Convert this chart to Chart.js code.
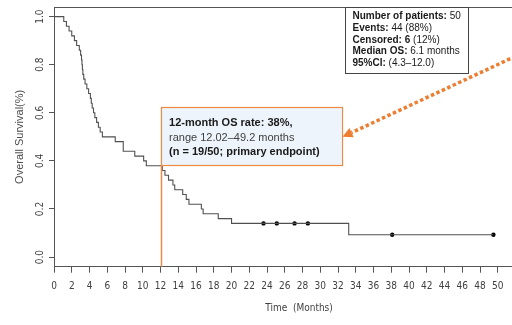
<!DOCTYPE html>
<html>
<head>
<meta charset="utf-8">
<title>Overall survival</title>
<script src="https://cdn.jsdelivr.net/npm/chart.js@4/dist/chart.umd.min.js"></script>
<style>
  html, body { margin: 0; padding: 0; background: #fff; overflow: hidden; }
  #wrap { width: 548px; height: 325px; }
</style>
</head>
<body>
<div id="wrap"><canvas id="km-chart" width="548" height="325"></canvas></div>
<script>
// Kaplan-Meier steps (time in months, survival after the step)
const kmTimes = [0, 1.1, 1.4, 1.7, 2.0, 2.3, 2.55, 2.85, 3.0,
  3.1, 3.15, 3.2, 3.25, 3.35, 3.5, 3.7, 3.9, 4.1, 4.2, 4.3, 4.45, 4.6, 4.8, 5.0, 5.2, 5.45,
  6.9, 7.8, 9.1, 10.1, 10.4,
  12.2, 12.5, 12.9, 13.4, 13.6, 14.5, 14.9, 15.2, 16.6, 16.8, 18.5, 20.0,
  33.2, 49.5];
const kmSurvival = [1.0, 0.98, 0.96, 0.94, 0.92, 0.90, 0.88, 0.86, 0.84,
  0.82, 0.80, 0.78, 0.76, 0.74, 0.72, 0.70, 0.68, 0.66, 0.64, 0.62, 0.60, 0.58, 0.56, 0.54, 0.52, 0.50,
  0.48, 0.44, 0.42, 0.40, 0.38,
  0.36, 0.34, 0.32, 0.30, 0.28, 0.26, 0.24, 0.22, 0.20, 0.18, 0.16, 0.14,
  0.093, 0.093];

// censored patients
const censorTimes = [23.6, 25.1, 27.1, 28.6, 38.1, 49.5];
const censorSurvival = [0.14, 0.14, 0.14, 0.14, 0.093, 0.093];

const yTickValues = [0, 0.2, 0.4, 0.6, 0.8, 1.0];
const yTickLabels = ["0.0", "0.2", "0.4", "0.6", "0.8", "1.0"];
const xTickStep = 2;
const lastXTick = 50;

const milestoneMonth = 12;
const infoLines = [
  [["Number of patients: ", true], ["50", false]],
  [["Events: ", true], ["44 (88%)", false]],
  [["Censored: 6 ", true], ["(12%)", false]],
  [["Median OS: ", true], ["6.1 months", false]],
  [["95%CI: ", true], ["(4.3\u201312.0)", false]],
];
const noteLines = [
  [["12-month OS rate: 38%,", true]],
  [["range 12.02\u201349.2 months", false]],
  [["(n = 19/50; primary endpoint)", true]],
];
// arrow from the top right corner towards the note box, in data units
const arrowFrom = { x: 51.4, y: 0.825 };
const arrowTo = { x: 32.5, y: 0.5 };

const axisFont = "'Liberation Sans Narrow', 'Arial Narrow', 'DejaVu Sans Condensed', sans-serif";
const textFont = "'Liberation Sans', Arial, sans-serif";
const orange = "#f08a42";

function drawRich(ctx, segments, x, y, size, color) {
  let cx = x;
  segments.forEach(([text, bold]) => {
    ctx.font = `${bold ? "bold " : ""}${size}px ${textFont}`;
    ctx.fillStyle = color;
    ctx.fillText(text, cx, y);
    cx += ctx.measureText(text).width;
  });
}

const decorations = {
  id: "decorations",
  afterDraw(chart) {
    const { ctx, chartArea, scales } = chart;
    const xs = scales.x;
    const ys = scales.y;
    ctx.save();

    // top of the box
    ctx.strokeStyle = "#555";
    ctx.lineWidth = 1;
    ctx.beginPath();
    ctx.moveTo(chartArea.left, chartArea.top + 0.5);
    ctx.lineTo(chartArea.right, chartArea.top + 0.5);
    ctx.stroke();

    // rotated y tick labels, R style
    ctx.fillStyle = "#404040";
    ctx.font = `10px ${axisFont}`;
    ctx.textAlign = "center";
    ctx.textBaseline = "middle";
    yTickValues.forEach((v, i) => {
      ctx.save();
      ctx.translate(40.5, ys.getPixelForValue(v));
      ctx.rotate(-Math.PI / 2);
      ctx.fillText(yTickLabels[i], 0, 0);
      ctx.restore();
    });

    // y title
    ctx.save();
    ctx.translate(20, (chartArea.top + chartArea.bottom) / 2);
    ctx.rotate(-Math.PI / 2);
    ctx.font = `11px ${textFont}`;
    ctx.fillStyle = "#4a4a4a";
    ctx.fillText("Overall Survival(%)", 0, 0);
    ctx.restore();

    // 12 month note box and its marker line
    const bx = xs.getPixelForValue(milestoneMonth);
    const by = 107;
    const bw = 181;
    const bh = 58;
    ctx.strokeStyle = orange;
    ctx.lineWidth = 1.5;
    ctx.beginPath();
    ctx.moveTo(Math.round(bx) + 0.5, by + bh);
    ctx.lineTo(Math.round(bx) + 0.5, chartArea.bottom);
    ctx.stroke();
    ctx.fillStyle = "#eef4fb";
    ctx.fillRect(bx, by, bw, bh);
    ctx.lineWidth = 1.2;
    ctx.strokeRect(Math.round(bx) + 0.5, by + 0.5, bw, bh);
    ctx.textAlign = "left";
    ctx.textBaseline = "middle";
    noteLines.forEach((line, i) => {
      drawRich(ctx, line, bx + 8.5, by + 16 + i * 14.5, 11, i === 1 ? "#404040" : "#1a1a1a");
    });

    // summary box
    const ix = 345.5;
    const iy = 7.5;
    ctx.fillStyle = "#fff";
    ctx.fillRect(ix, iy, 123, 66);
    ctx.strokeStyle = "#444";
    ctx.lineWidth = 1;
    ctx.strokeRect(ix, iy, 123, 66);
    infoLines.forEach((line, i) => {
      drawRich(ctx, line, ix + 7, iy + 9 + i * 11.7, 10, "#1a1a1a");
    });

    // dotted arrow
    const x1 = xs.getPixelForValue(arrowFrom.x);
    const y1 = ys.getPixelForValue(arrowFrom.y);
    const x2 = xs.getPixelForValue(arrowTo.x);
    const y2 = ys.getPixelForValue(arrowTo.y);
    const ang = Math.atan2(y2 - y1, x2 - x1);
    const head = 10;
    ctx.strokeStyle = "#ed7d31";
    ctx.lineWidth = 3.5;
    ctx.setLineDash([3.5, 2.5]);
    ctx.beginPath();
    ctx.moveTo(x1, y1);
    ctx.lineTo(x2 - Math.cos(ang) * head, y2 - Math.sin(ang) * head);
    ctx.stroke();
    ctx.setLineDash([]);
    ctx.fillStyle = "#ed7d31";
    ctx.beginPath();
    ctx.moveTo(x2, y2);
    ctx.lineTo(x2 - Math.cos(ang) * head - Math.sin(ang) * 5, y2 - Math.sin(ang) * head + Math.cos(ang) * 5);
    ctx.lineTo(x2 - Math.cos(ang) * head + Math.sin(ang) * 5, y2 - Math.sin(ang) * head - Math.cos(ang) * 5);
    ctx.closePath();
    ctx.fill();

    ctx.restore();
  },
};

const kmPoints = kmTimes.map((t, i) => ({ x: t, y: kmSurvival[i] }));
const censorPoints = censorTimes.map((t, i) => ({ x: t, y: censorSurvival[i] }));

new Chart(document.getElementById("km-chart"), {
  type: "line",
  data: {
    datasets: [
      {
        label: "Overall survival",
        data: kmPoints,
        stepped: "before",
        borderColor: "#505050",
        borderWidth: 1.1,
        pointRadius: 0,
        fill: false,
      },
      {
        label: "Censored",
        type: "scatter",
        data: censorPoints,
        pointStyle: "circle",
        pointRadius: 2.2,
        backgroundColor: "#000",
        borderColor: "#000",
        borderWidth: 0,
      },
    ],
  },
  options: {
    responsive: false,
    animation: false,
    layout: { padding: { top: 7, right: 0, left: 0, bottom: 0 } },
    plugins: {
      legend: { display: false },
      tooltip: { enabled: false },
    },
    scales: {
      x: {
        type: "linear",
        min: 0,
        max: 55.2,
        afterFit: (scale) => { scale.height = 58.3; },
        ticks: {
          stepSize: xTickStep,
          includeBounds: false,
          autoSkip: false,
          maxRotation: 0,
          padding: 8,
          color: "#404040",
          font: { family: axisFont, size: 10 },
          callback: (v) => (v <= lastXTick ? String(v) : ""),
        },
        grid: { drawOnChartArea: false, tickLength: 6, color: "#555" },
        border: { display: true, color: "#555", width: 1 },
        title: {
          display: true,
          text: "Time  (Months)",
          color: "#404040",
          font: { family: axisFont, size: 10 },
          padding: { top: 0, bottom: 11 },
        },
      },
      y: {
        min: -0.04,
        max: 1.04,
        afterFit: (scale) => { scale.width = 54; },
        ticks: { display: false, stepSize: 0.2, includeBounds: false },
        grid: { drawOnChartArea: false, tickLength: 5, color: "#555" },
        border: { display: true, color: "#555", width: 1 },
      },
    },
  },
  plugins: [decorations],
});
</script>
</body>
</html>
